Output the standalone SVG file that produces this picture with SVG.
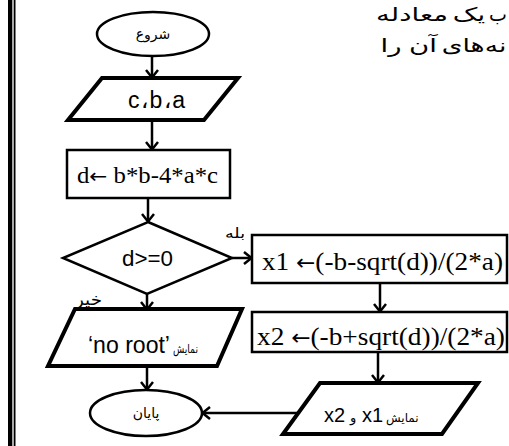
<svg xmlns="http://www.w3.org/2000/svg" width="509" height="446" viewBox="0 0 509 446">
<style>
.s{fill:#fff;stroke:#000;stroke-width:2.5}
.p{fill:#fff;stroke:#000;stroke-width:4;stroke-linejoin:miter}
.fa{font-family:"DejaVu Sans","Noto Sans",sans-serif;fill:#000}
.ar{font-family:"Liberation Sans",Arial,sans-serif;fill:#000}
.tm{font-family:"Liberation Serif","Times New Roman",serif;fill:#000}
.c{fill:none;stroke:#000;stroke-width:2.5}
.h{font-family:"DejaVu Sans","Noto Sans",sans-serif;fill:#000;font-size:19px;text-anchor:middle}
</style>
<defs>
<marker id="ah" markerWidth="14" markerHeight="14" refX="11" refY="7" orient="auto" markerUnits="userSpaceOnUse">
<path d="M3,1 L10.5,7 L3,13" fill="none" stroke="#000" stroke-width="2.5"/>
</marker>
</defs>
<rect width="509" height="446" fill="#fff"/>
<rect x="8" y="0" width="4" height="446" fill="#000"/>
<rect x="12" y="0" width="2" height="446" fill="#aaa"/>
<rect x="14" y="0" width="1.5" height="446" fill="#000"/>

<g id="heading">
<text class="h" transform="translate(412,21) scale(1.45,1)">معادله</text>
<text class="h" transform="translate(469,21) scale(1.45,1)">یک</text>
<text class="h" transform="translate(507,21)" style="text-anchor:end">ب</text>
<text class="h" transform="translate(391,52) scale(1.45,1)">را</text>
<text class="h" transform="translate(423,52) scale(1.45,1)">آن</text>
<text class="h" transform="translate(474,52) scale(1.4,1)">نه‌های</text>
</g>

<g id="connectors">
<path class="c" d="M152,56 L152,78" marker-end="url(#ah)"/>
<path class="c" d="M152,120 L152,150" marker-end="url(#ah)"/>
<path class="c" d="M148,198 L148,222" marker-end="url(#ah)"/>
<path class="c" d="M232,258 L252,258" marker-end="url(#ah)"/>
<path class="c" d="M147,294 L147,310" marker-end="url(#ah)"/>
<path class="c" d="M380,283 L380,312" marker-end="url(#ah)"/>
<path class="c" d="M378,352 L378,383" marker-end="url(#ah)"/>
<path class="c" d="M300,413 L202,413" marker-end="url(#ah)"/>
<path class="c" d="M147,366 L147,390" marker-end="url(#ah)"/>
<text class="fa" x="225" y="238" font-size="14" textLength="20" lengthAdjust="spacingAndGlyphs">بله</text>
<text class="fa" x="75" y="305" font-size="16" textLength="27" lengthAdjust="spacingAndGlyphs">خیر</text>
</g>

<g id="start">
<ellipse class="s" cx="153" cy="34" rx="56" ry="22"/>
<text class="fa" x="153" y="39" font-size="14" text-anchor="middle">شروع</text>
</g>

<g id="input">
<polygon class="p" points="102,78 238,78 204,120 68,120"/>
<text class="ar" x="128" y="108" font-size="23" textLength="57" lengthAdjust="spacing">c،b،a</text>
</g>

<g id="calc-d">
<rect class="s" x="67" y="150" width="163" height="48"/>
<text class="tm" x="77" y="183" font-size="23" textLength="141" lengthAdjust="spacingAndGlyphs">d<tspan class="fa" font-size="20">←</tspan> b*b-4*a*c</text>
</g>

<g id="decision">
<polygon class="s" points="148,222 232,258 147,294 63,258"/>
<text class="ar" x="122" y="266" font-size="22" textLength="51" lengthAdjust="spacingAndGlyphs">d&gt;=0</text>
</g>

<g id="calc-x1">
<rect class="s" x="252" y="235" width="255" height="48"/>
<text class="tm" x="262" y="270" font-size="26" textLength="241" lengthAdjust="spacingAndGlyphs">x1 <tspan class="fa" font-size="22">←</tspan>(-b-sqrt(d))/(2*a)</text>
</g>

<g id="calc-x2">
<rect class="s" x="252" y="312" width="255" height="40"/>
<text class="tm" x="257" y="345" font-size="26" textLength="248" lengthAdjust="spacingAndGlyphs">x2 <tspan class="fa" font-size="22">←</tspan>(-b+sqrt(d))/(2*a)</text>
</g>

<g id="no-root">
<polygon class="p" points="75,309 242,309 217,366 48,366"/>
<text class="ar" x="88" y="353" font-size="24" textLength="82" lengthAdjust="spacingAndGlyphs">‘no root’</text>
<text class="fa" x="173" y="353" font-size="12" textLength="25" lengthAdjust="spacingAndGlyphs">نمایش</text>
</g>

<g id="output">
<polygon class="p" points="320,383 478,383 442,434 283,434"/>
<text class="ar" x="324" y="422" font-size="20">x2</text>
<text class="fa" x="350" y="422" font-size="13">و</text>
<text class="ar" x="362" y="422" font-size="20">x1</text>
<text class="fa" x="386" y="422" font-size="12">نمایش</text>
</g>

<g id="end">
<ellipse class="s" cx="146" cy="413" rx="56" ry="23"/>
<text class="fa" x="146" y="418" font-size="14" text-anchor="middle">پایان</text>
</g>
</svg>
